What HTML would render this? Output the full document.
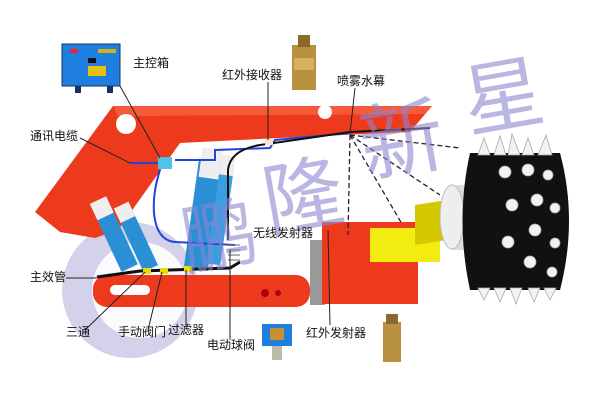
<!DOCTYPE html>
<html><head><meta charset="utf-8"><style>
html,body{margin:0;padding:0;background:#fff;width:600px;height:404px;overflow:hidden}
svg text{font-family:"Liberation Sans","Noto Sans CJK SC",sans-serif;font-size:12px;fill:#111}
</style></head><body>
<svg width="600" height="404" viewBox="0 0 600 404" xmlns="http://www.w3.org/2000/svg">
<!-- watermark circle -->
<circle cx="130" cy="290" r="68" fill="#c9c6e6" opacity="0.8"/>
<circle cx="140" cy="290" r="48" fill="#fff" opacity="0.9"/>
<!-- red arm -->
<path d="M113,106 L432,106 L410,132 L300,137 L180,143 L118,230 L95,238 L60,232 L35,212 Z" fill="#ee3a1c"/>
<path d="M113,106 L432,106 L425,114 L118,116 Z" fill="#f55b3a"/>
<circle cx="126" cy="124" r="10" fill="#fff"/>
<circle cx="325" cy="112" r="7" fill="#fff"/>
<!-- lower boom -->
<rect x="93" y="275" width="217" height="32" rx="14" fill="#ee3a1c"/>
<rect x="110" y="285" width="40" height="10" rx="5" fill="#fff"/>
<circle cx="265" cy="293" r="4" fill="#a01"/><circle cx="278" cy="293" r="3" fill="#a01"/>
<rect x="310" y="240" width="15" height="65" fill="#999"/>
<!-- cylinders -->
<g transform="rotate(-25 120 245)"><rect x="110" y="205" width="18" height="65" fill="#2b8fd6"/><rect x="110" y="195" width="18" height="18" fill="#eee"/></g>
<g transform="rotate(-25 142 245)"><rect x="132" y="210" width="16" height="60" fill="#2b8fd6"/><rect x="132" y="200" width="16" height="16" fill="#eee"/></g>
<g transform="rotate(8 205 210)"><rect x="192" y="160" width="24" height="110" fill="#2b8fd6"/><rect x="194" y="148" width="20" height="30" fill="#eee"/></g>
<g transform="rotate(8 222 210)"><rect x="214" y="165" width="14" height="100" fill="#3a9ee0"/><rect x="214" y="155" width="14" height="20" fill="#eee"/></g>
<!-- blue cable -->
<path d="M130,163 L160,163 M175,160 L215,160 L215,150 L270,148 L275,140 L350,133" stroke="#2244dd" stroke-width="2" fill="none"/>
<rect x="158" y="157" width="14" height="12" fill="#4dc4e8"/>
<path d="M160,170 C150,200 150,240 175,242 L235,245" stroke="#2244dd" stroke-width="2" fill="none"/>
<path d="M228,240 L228,170 Q230,150 260,145 L350,132 L430,128" stroke="#111" stroke-width="2" fill="none"/>
<rect x="265" y="139" width="8" height="6" fill="#f4e4d4"/>
<!-- main pipe -->
<path d="M97,277 L140,271 L230,268 L240,262" stroke="#111" stroke-width="3" fill="none"/>
<rect x="143" y="268" width="8" height="6" fill="#e6e000"/><rect x="160" y="268" width="8" height="6" fill="#e6e000"/><rect x="184" y="266" width="8" height="6" fill="#e6e000"/>
<g stroke="#666" stroke-width="1"><line x1="228" y1="245" x2="240" y2="245"/><line x1="228" y1="250" x2="240" y2="250"/><line x1="228" y1="255" x2="240" y2="255"/><line x1="228" y1="260" x2="240" y2="260"/></g>
<!-- right block -->
<rect x="322" y="222" width="96" height="82" fill="#ee3a1c"/>
<rect x="370" y="228" width="70" height="34" fill="#f3ec10"/>
<polygon points="415,205 447,200 447,240 415,245" fill="#d6c800"/>
<!-- grey cylinder -->
<rect x="452" y="185" width="30" height="65" fill="#ddd"/>
<ellipse cx="452" cy="217" rx="12" ry="32" fill="#eee" stroke="#bbb"/>
<!-- drum -->
<path d="M470,153 L560,153 Q578,220 560,290 L470,290 Q455,220 470,153 Z" fill="#111"/>
<g fill="#f2f2f2" stroke="#aaa" stroke-width="0.8">
<polygon points="478,155 490,155 484,138"/><polygon points="494,155 506,155 500,136"/><polygon points="508,155 520,155 512,134"/><polygon points="522,155 534,155 528,138"/><polygon points="538,155 552,155 546,135"/>
<polygon points="478,288 490,288 484,300"/><polygon points="494,288 506,288 500,302"/><polygon points="510,288 522,288 516,304"/><polygon points="528,288 540,288 534,302"/><polygon points="544,288 556,288 550,300"/>
<circle cx="505" cy="172" r="6"/><circle cx="528" cy="170" r="6"/><circle cx="548" cy="175" r="5"/><circle cx="512" cy="205" r="6"/><circle cx="537" cy="200" r="6"/><circle cx="555" cy="208" r="5"/><circle cx="508" cy="242" r="6"/><circle cx="535" cy="230" r="6"/><circle cx="555" cy="243" r="5"/><circle cx="530" cy="262" r="6"/><circle cx="552" cy="272" r="5"/>
</g>
<!-- spray dashed lines -->
<g stroke="#223" stroke-width="1.3" stroke-dasharray="5,3" fill="none">
<line x1="350" y1="135" x2="460" y2="148"/><line x1="350" y1="135" x2="440" y2="195"/><line x1="350" y1="135" x2="402" y2="224"/><line x1="350" y1="135" x2="348" y2="235"/>
</g>
<!-- devices -->
<rect x="62" y="44" width="58" height="42" fill="#1e7fe0" stroke="#136" stroke-width="1"/>
<rect x="70" y="49" width="8" height="4" fill="#e22"/><rect x="98" y="49" width="18" height="4" fill="#d8b010"/><rect x="88" y="58" width="8" height="5" fill="#111"/><rect x="88" y="66" width="18" height="10" fill="#e8c010"/>
<rect x="75" y="86" width="6" height="7" fill="#136"/><rect x="107" y="86" width="6" height="7" fill="#136"/>
<rect x="292" y="45" width="24" height="45" fill="#b89140"/><rect x="298" y="35" width="12" height="12" fill="#8a6a2a"/><rect x="294" y="58" width="20" height="12" fill="#d8b060"/>
<rect x="262" y="324" width="30" height="22" fill="#1e7fe0"/><rect x="270" y="328" width="14" height="12" fill="#c89030"/><rect x="272" y="346" width="10" height="14" fill="#bba"/>
<rect x="383" y="322" width="18" height="40" fill="#b89140"/><rect x="386" y="314" width="12" height="10" fill="#8a6a2a"/>
<!-- watermark text -->
<g opacity="0.6">
<text x="180" y="265" style="font-family:'Noto Sans CJK SC',sans-serif;font-size:76px;fill:#8c86d0" transform="rotate(-10 210 230)">鹏</text>
<text x="262" y="225" style="font-family:'Noto Sans CJK SC',sans-serif;font-size:80px;fill:#8c86d0" transform="rotate(-10 300 190)">隆</text>
<text x="358" y="170" style="font-family:'Noto Sans CJK SC',sans-serif;font-size:84px;fill:#8c86d0" transform="rotate(-10 400 130)">新</text>
<text x="462" y="125" style="font-family:'Noto Sans CJK SC',sans-serif;font-size:80px;fill:#8c86d0" transform="rotate(-10 500 90)">星</text>
</g>
<!-- leader lines -->
<g stroke="#222" stroke-width="1" fill="none">
<line x1="120" y1="86" x2="160" y2="158"/>
<line x1="80" y1="138" x2="130" y2="163"/>
<line x1="268" y1="82" x2="268" y2="140"/>
<line x1="355" y1="88" x2="350" y2="133"/>
<line x1="66" y1="278" x2="97" y2="278"/>
<line x1="85" y1="330" x2="145" y2="272"/>
<line x1="148" y1="330" x2="162" y2="272"/>
<line x1="186" y1="326" x2="186" y2="270"/>
<line x1="230" y1="340" x2="230" y2="250"/>
<line x1="330" y1="325" x2="328" y2="230"/>
</g>
<text x="133" y="67">主控箱</text>
<text x="222" y="79">红外接收器</text>
<text x="337" y="85">喷雾水幕</text>
<text x="30" y="140">通讯电缆</text>
<text x="253" y="237">无线发射器</text>
<text x="30" y="281">主效管</text>
<text x="66" y="336">三通</text>
<text x="118" y="336">手动阀门</text>
<text x="168" y="334">过滤器</text>
<text x="207" y="349">电动球阀</text>
<text x="306" y="337">红外发射器</text>
</svg>
</body></html>
